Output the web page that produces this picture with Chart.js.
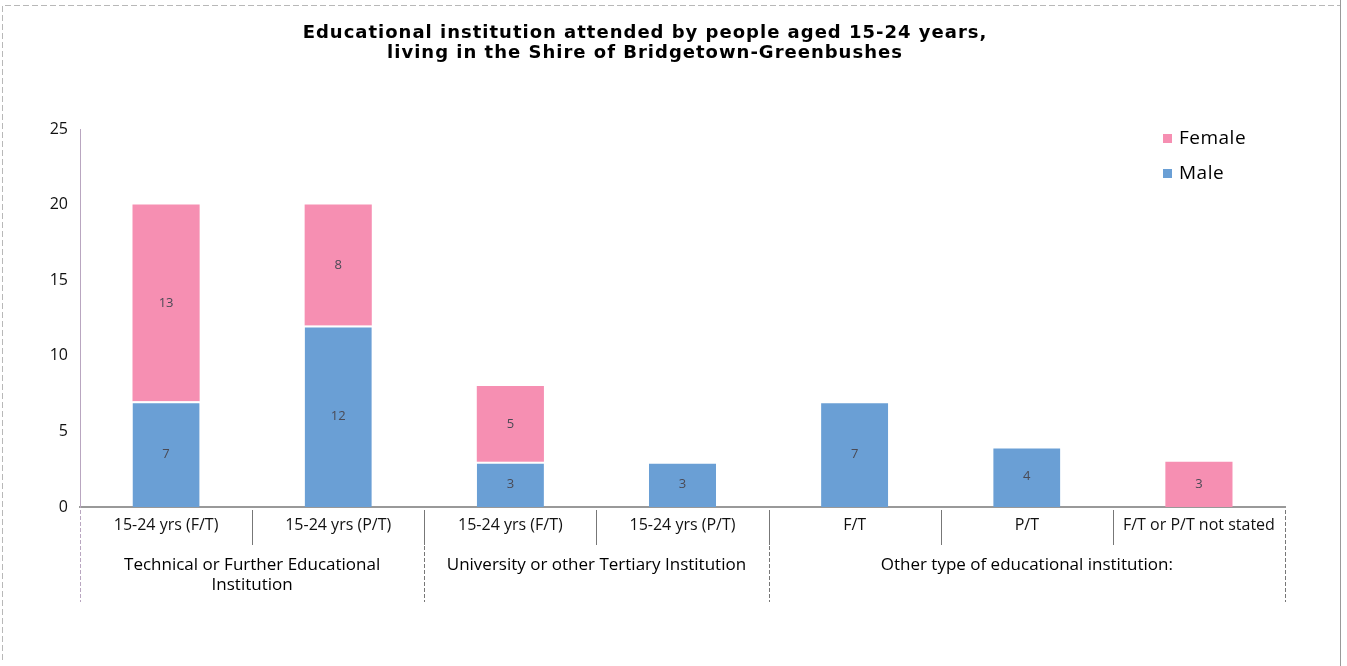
<!DOCTYPE html>
<html>
<head>
<meta charset="utf-8">
<script src="https://cdn.jsdelivr.net/npm/chart.js@4"></script>
<style>
  html, body { margin: 0; padding: 0; background: #fff; }
  #wrap { width: 1347px; height: 666px; }
</style>
</head>
<body>
<div id="wrap"><canvas id="myChart" width="1347" height="666"></canvas></div>
<script>
const titleLines = ['Educational institution attended by people aged 15-24 years,', 'living in the Shire of Bridgetown-Greenbushes'];
const categories = ['15-24 yrs (F/T)', '15-24 yrs (P/T)', '15-24 yrs (F/T)', '15-24 yrs (P/T)', 'F/T', 'P/T', 'F/T or P/T not stated'];
const groupLabels = [['Technical or Further Educational', 'Institution'], ['University or other Tertiary Institution'], ['Other type of educational institution:']];
const groupSizes = [2, 2, 3];
const maleValues = [7, 12, 3, 3, 7, 4, null];
const femaleValues = [13, 8, 5, null, null, null, 3];
const yTicks = [0, 5, 10, 15, 20, 25];

const pink = '#f68fb2';
const blue = '#6a9fd5';
const font = "'Open Sans', sans-serif";

// draws title, legend, bar values, group labels and the cell lines under the axis
const extras = {
    id: 'extras',
    afterDraw(chart) {
        const c = chart.ctx;
        const x = chart.scales.x;
        const area = chart.chartArea;
        c.save();

        // outer frame
        c.strokeStyle = '#b8b8b8';
        c.lineWidth = 1;
        c.setLineDash([6, 3]);
        c.beginPath();
        c.moveTo(2.5, 660); c.lineTo(2.5, 5.5); c.lineTo(1340.5, 5.5);
        c.stroke();
        c.setLineDash([]);
        c.strokeStyle = '#999';
        c.beginPath();
        c.moveTo(1340.5, 0); c.lineTo(1340.5, 666);
        c.stroke();

        // title
        c.fillStyle = '#000';
        c.textAlign = 'center';
        c.textBaseline = 'middle';
        c.font = "bold 18px 'DejaVu Sans', sans-serif";
        c.letterSpacing = '1px';
        titleLines.forEach((t, i) => c.fillText(t, 645, 33 + i * 20));
        c.letterSpacing = '0px';

        // legend (female first)
        c.font = '19px ' + font;
        c.letterSpacing = '0.5px';
        c.textAlign = 'left';
        const legendItems = [[chart.data.datasets[1].label, pink], [chart.data.datasets[0].label, blue]];
        legendItems.forEach((it, i) => {
            const ly = 139 + i * 35;
            c.fillStyle = it[1];
            c.fillRect(1163, ly - 5, 9, 9);
            c.fillStyle = '#000';
            c.fillText(it[0], 1179, ly);
        });
        c.letterSpacing = '0px';

        // values inside bars
        c.font = '13px ' + font;
        c.textAlign = 'center';
        c.fillStyle = '#4a4a55';
        chart.data.datasets.forEach((ds, di) => {
            chart.getDatasetMeta(di).data.forEach((bar, i) => {
                if (ds.data[i] == null) return;
                c.fillText(ds.data[i], bar.x, (bar.y + bar.base) / 2);
            });
        });

        // cell lines and group labels
        const n = categories.length;
        const step = (x.right - x.left) / n;
        const y0 = area.bottom;
        c.strokeStyle = '#777';
        c.lineWidth = 1;
        for (let i = 1; i < n; i++) {
            const lx = Math.round(x.left + step * i) + 0.5;
            c.beginPath();
            c.moveTo(lx, y0 + 3); c.lineTo(lx, y0 + 38);
            c.stroke();
        }
        c.setLineDash([4, 2]);
        let start = 0;
        const edges = [0];
        groupSizes.forEach(s => { start += s; edges.push(start); });
        edges.forEach((e, k) => {
            const lx = Math.round(x.left + step * e) + 0.5;
            c.strokeStyle = (k === 0) ? '#b9a6c0' : '#777';
            c.beginPath();
            c.moveTo(lx, y0 + 3); c.lineTo(lx, y0 + 95);
            c.stroke();
        });
        c.setLineDash([]);
        c.fillStyle = '#000';
        c.font = '17px ' + font;
        groupLabels.forEach((lines, g) => {
            const cx = x.left + step * (edges[g] + edges[g + 1]) / 2;
            lines.forEach((t, j) => c.fillText(t, cx, y0 + 58 + j * 20));
        });
        c.restore();
    }
};

new Chart(document.getElementById('myChart'), {
    type: 'bar',
    data: {
        labels: categories,
        datasets: [{
            label: 'Male',
            data: maleValues,
            backgroundColor: blue,
            borderColor: '#fff',
            borderWidth: {top: 2, left: 0, right: 0, bottom: 0},
            barPercentage: 0.39,
            categoryPercentage: 1
        }, {
            label: 'Female',
            data: femaleValues,
            backgroundColor: pink,
            borderWidth: 0,
            barPercentage: 0.39,
            categoryPercentage: 1
        }]
    },
    options: {
        responsive: false,
        animation: false,
        layout: {padding: {top: 129, right: 62, bottom: 0, left: 0}},
        plugins: {
            legend: {display: false},
            title: {display: false},
            tooltip: {enabled: false}
        },
        scales: {
            x: {
                stacked: true,
                afterFit: s => { s.height = 159; },
                grid: {display: false, drawTicks: false},
                border: {display: true, color: '#999', width: 2},
                ticks: {color: '#111', padding: 9, maxRotation: 0, autoSkip: false, font: {family: font, size: 16}}
            },
            y: {
                stacked: true,
                min: 0,
                max: 25,
                afterFit: s => { s.width = 80; },
                afterBuildTicks: s => { s.ticks = yTicks.map(v => ({value: v})); },
                grid: {display: false, drawTicks: false},
                border: {display: true, color: '#b9a6c0', dash: [4, 2]},
                ticks: {color: '#111', padding: 12, font: {family: font, size: 16}}
            }
        }
    },
    plugins: [extras]
});
</script>
</body>
</html>
